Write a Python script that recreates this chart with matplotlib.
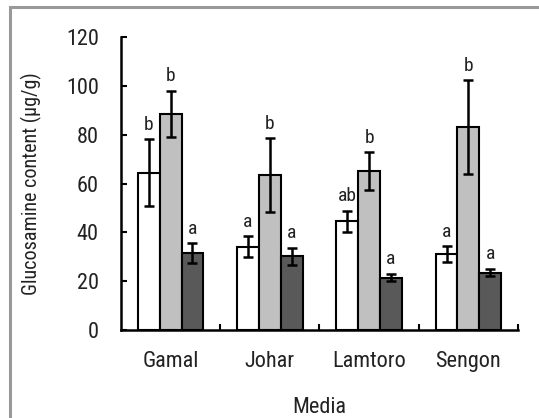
import numpy as np
import matplotlib
matplotlib.use("Agg")
import matplotlib.pyplot as plt
from matplotlib.patches import Rectangle

plt.rcParams['font.family'] = ['Roboto Condensed', 'Liberation Sans', 'DejaVu Sans']

# Data
media = ["Gamal", "Johar", "Lamtoro", "Sengon"]
white_mean = [64.5, 34.0, 44.5, 31.0]
white_err = [13.7, 4.3, 4.3, 3.3]
gray_mean = [88.5, 63.5, 65.0, 83.0]
gray_err = [9.5, 15.0, 7.7, 19.3]
dark_mean = [31.5, 30.2, 21.5, 23.5]
dark_err = [4.0, 3.5, 1.6, 1.5]
white_letters = ["b", "a", "ab", "a"]
gray_letters = ["b", "b", "b", "b"]
dark_letters = ["a", "a", "a", "a"]

series = [
    (white_mean, white_err, white_letters, "white"),
    (gray_mean, gray_err, gray_letters, "#c0c0c0"),
    (dark_mean, dark_err, dark_letters, "#595959"),
]

fig = plt.figure(figsize=(5.39, 4.18), dpi=100)
ax = fig.add_axes([0.2245, 0.2105, 0.7365, 0.701])

# Gray frame around the figure (runs off the right and bottom edges)
fig.patches.append(Rectangle((10 / 539, -0.1), 1.2, 1 - 7 / 418 + 0.1,
                             transform=fig.transFigure, fill=False,
                             edgecolor="#999999", linewidth=2.2))

x = np.arange(len(media))
width = 0.22
for i, (mean, err, letters, color) in enumerate(series):
    pos = x + (i - 1) * width
    ax.bar(pos, mean, width, color=color, edgecolor="black", linewidth=1.5,
           yerr=err, capsize=3.5,
           error_kw=dict(elinewidth=1.8, capthick=1.8, ecolor="black"))
    for px, m, e, lab in zip(pos, mean, err, letters):
        ax.annotate(lab, (px, m + e), xytext=(0, 4), textcoords="offset points",
                    ha="center", va="bottom", fontsize=14, color="#222222")

ax.set_xlim(-0.5, 3.5)
ax.set_ylim(0, 120)
ax.set_yticks(np.arange(0, 121, 20))
ax.set_xticks(x)
ax.set_xticklabels(media, fontsize=16, color="#222222")
ax.set_xticks(np.arange(0.5, 4, 1), minor=True)
ax.tick_params(axis="x", which="major", length=0, pad=15)
ax.tick_params(axis="x", which="minor", direction="in", length=4, width=1.5)
ax.tick_params(axis="y", direction="in", length=4, width=1.5, labelsize=16,
               labelcolor="#222222", pad=16)

for s in ["top", "right"]:
    ax.spines[s].set_visible(False)
ax.spines["left"].set_linewidth(1.8)
ax.spines["bottom"].set_linewidth(1.8)

ax.set_xlabel("Media", fontsize=16, labelpad=18, color="#222222")
ax.set_ylabel("Glucosamine content (µg/g)", fontsize=14.5, labelpad=17, color="#222222")

fig.savefig("out.png", dpi=100)
